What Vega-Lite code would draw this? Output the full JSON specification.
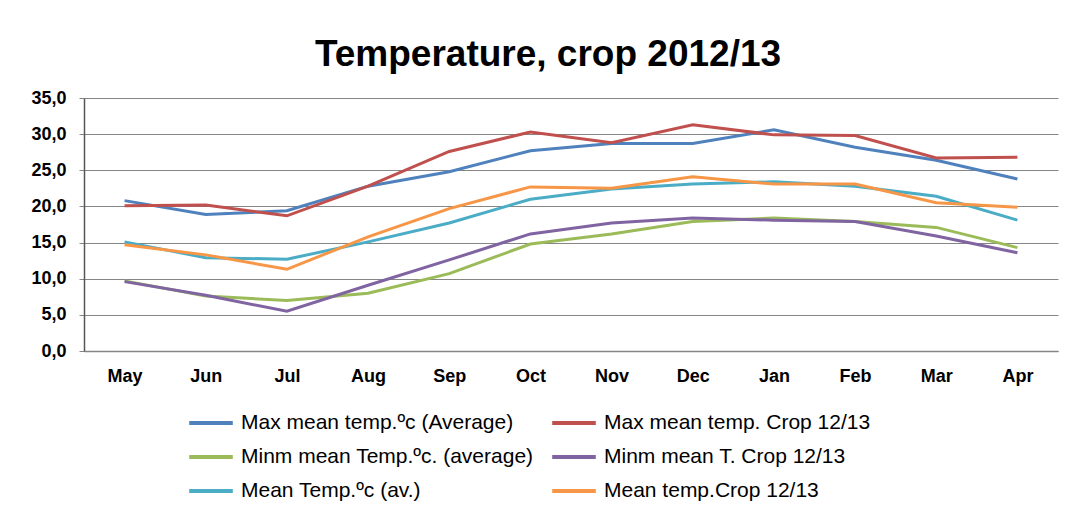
{
  "$schema": "https://vega.github.io/schema/vega-lite/v6.json",
  "autosize": "none",
  "width": 974,
  "height": 253,
  "padding": {"left": 84, "top": 98, "right": 11, "bottom": 164},
  "background": "white",
  "title": {
    "text": "Temperature, crop 2012/13",
    "font": "Liberation Sans",
    "fontSize": 37,
    "fontWeight": "bold",
    "color": "#000000",
    "anchor": "middle",
    "dx": -23,
    "offset": 15
  },
  "config": {
    "locale": {"number": {"decimal": ",", "thousands": ".", "grouping": [3], "currency": ["", " €"]}},
    "view": {"stroke": null},
    "font": "Liberation Sans"
  },
  "data": {
    "values": [
      {"month": "May", "series": "Max mean temp.ºc (Average)", "temp": 20.8},
      {"month": "Jun", "series": "Max mean temp.ºc (Average)", "temp": 18.9},
      {"month": "Jul", "series": "Max mean temp.ºc (Average)", "temp": 19.4},
      {"month": "Aug", "series": "Max mean temp.ºc (Average)", "temp": 22.8},
      {"month": "Sep", "series": "Max mean temp.ºc (Average)", "temp": 24.8},
      {"month": "Oct", "series": "Max mean temp.ºc (Average)", "temp": 27.7},
      {"month": "Nov", "series": "Max mean temp.ºc (Average)", "temp": 28.7},
      {"month": "Dec", "series": "Max mean temp.ºc (Average)", "temp": 28.7},
      {"month": "Jan", "series": "Max mean temp.ºc (Average)", "temp": 30.6},
      {"month": "Feb", "series": "Max mean temp.ºc (Average)", "temp": 28.2},
      {"month": "Mar", "series": "Max mean temp.ºc (Average)", "temp": 26.4},
      {"month": "Apr", "series": "Max mean temp.ºc (Average)", "temp": 23.8},

      {"month": "May", "series": "Max mean temp. Crop 12/13", "temp": 20.1},
      {"month": "Jun", "series": "Max mean temp. Crop 12/13", "temp": 20.2},
      {"month": "Jul", "series": "Max mean temp. Crop 12/13", "temp": 18.7},
      {"month": "Aug", "series": "Max mean temp. Crop 12/13", "temp": 22.8},
      {"month": "Sep", "series": "Max mean temp. Crop 12/13", "temp": 27.6},
      {"month": "Oct", "series": "Max mean temp. Crop 12/13", "temp": 30.3},
      {"month": "Nov", "series": "Max mean temp. Crop 12/13", "temp": 28.8},
      {"month": "Dec", "series": "Max mean temp. Crop 12/13", "temp": 31.3},
      {"month": "Jan", "series": "Max mean temp. Crop 12/13", "temp": 29.9},
      {"month": "Feb", "series": "Max mean temp. Crop 12/13", "temp": 29.8},
      {"month": "Mar", "series": "Max mean temp. Crop 12/13", "temp": 26.7},
      {"month": "Apr", "series": "Max mean temp. Crop 12/13", "temp": 26.8},

      {"month": "May", "series": " Minm mean Temp.ºc. (average)", "temp": 9.7},
      {"month": "Jun", "series": " Minm mean Temp.ºc. (average)", "temp": 7.6},
      {"month": "Jul", "series": " Minm mean Temp.ºc. (average)", "temp": 7.0},
      {"month": "Aug", "series": " Minm mean Temp.ºc. (average)", "temp": 8.0},
      {"month": "Sep", "series": " Minm mean Temp.ºc. (average)", "temp": 10.7},
      {"month": "Oct", "series": " Minm mean Temp.ºc. (average)", "temp": 14.8},
      {"month": "Nov", "series": " Minm mean Temp.ºc. (average)", "temp": 16.2},
      {"month": "Dec", "series": " Minm mean Temp.ºc. (average)", "temp": 17.9},
      {"month": "Jan", "series": " Minm mean Temp.ºc. (average)", "temp": 18.4},
      {"month": "Feb", "series": " Minm mean Temp.ºc. (average)", "temp": 17.9},
      {"month": "Mar", "series": " Minm mean Temp.ºc. (average)", "temp": 17.1},
      {"month": "Apr", "series": " Minm mean Temp.ºc. (average)", "temp": 14.3},

      {"month": "May", "series": "Minm mean  T. Crop 12/13", "temp": 9.6},
      {"month": "Jun", "series": "Minm mean  T. Crop 12/13", "temp": 7.7},
      {"month": "Jul", "series": "Minm mean  T. Crop 12/13", "temp": 5.5},
      {"month": "Aug", "series": "Minm mean  T. Crop 12/13", "temp": 9.1},
      {"month": "Sep", "series": "Minm mean  T. Crop 12/13", "temp": 12.6},
      {"month": "Oct", "series": "Minm mean  T. Crop 12/13", "temp": 16.2},
      {"month": "Nov", "series": "Minm mean  T. Crop 12/13", "temp": 17.7},
      {"month": "Dec", "series": "Minm mean  T. Crop 12/13", "temp": 18.4},
      {"month": "Jan", "series": "Minm mean  T. Crop 12/13", "temp": 18.1},
      {"month": "Feb", "series": "Minm mean  T. Crop 12/13", "temp": 17.9},
      {"month": "Mar", "series": "Minm mean  T. Crop 12/13", "temp": 15.9},
      {"month": "Apr", "series": "Minm mean  T. Crop 12/13", "temp": 13.6},

      {"month": "May", "series": "Mean Temp.ºc  (av.)", "temp": 15.1},
      {"month": "Jun", "series": "Mean Temp.ºc  (av.)", "temp": 12.9},
      {"month": "Jul", "series": "Mean Temp.ºc  (av.)", "temp": 12.7},
      {"month": "Aug", "series": "Mean Temp.ºc  (av.)", "temp": 15.1},
      {"month": "Sep", "series": "Mean Temp.ºc  (av.)", "temp": 17.7},
      {"month": "Oct", "series": "Mean Temp.ºc  (av.)", "temp": 21.0},
      {"month": "Nov", "series": "Mean Temp.ºc  (av.)", "temp": 22.4},
      {"month": "Dec", "series": "Mean Temp.ºc  (av.)", "temp": 23.1},
      {"month": "Jan", "series": "Mean Temp.ºc  (av.)", "temp": 23.4},
      {"month": "Feb", "series": "Mean Temp.ºc  (av.)", "temp": 22.8},
      {"month": "Mar", "series": "Mean Temp.ºc  (av.)", "temp": 21.4},
      {"month": "Apr", "series": "Mean Temp.ºc  (av.)", "temp": 18.1},

      {"month": "May", "series": "Mean temp.Crop 12/13", "temp": 14.7},
      {"month": "Jun", "series": "Mean temp.Crop 12/13", "temp": 13.3},
      {"month": "Jul", "series": "Mean temp.Crop 12/13", "temp": 11.3},
      {"month": "Aug", "series": "Mean temp.Crop 12/13", "temp": 15.8},
      {"month": "Sep", "series": "Mean temp.Crop 12/13", "temp": 19.7},
      {"month": "Oct", "series": "Mean temp.Crop 12/13", "temp": 22.7},
      {"month": "Nov", "series": "Mean temp.Crop 12/13", "temp": 22.5},
      {"month": "Dec", "series": "Mean temp.Crop 12/13", "temp": 24.1},
      {"month": "Jan", "series": "Mean temp.Crop 12/13", "temp": 23.1},
      {"month": "Feb", "series": "Mean temp.Crop 12/13", "temp": 23.1},
      {"month": "Mar", "series": "Mean temp.Crop 12/13", "temp": 20.5},
      {"month": "Apr", "series": "Mean temp.Crop 12/13", "temp": 19.9}
    ]
  },
  "mark": {"type": "line", "strokeWidth": 3},
  "encoding": {
    "x": {
      "field": "month",
      "type": "ordinal",
      "sort": ["May", "Jun", "Jul", "Aug", "Sep", "Oct", "Nov", "Dec", "Jan", "Feb", "Mar", "Apr"],
      "scale": {"type": "point", "padding": 0.5},
      "axis": {
        "title": null,
        "labelAngle": 0,
        "labelFont": "Liberation Sans",
        "labelFontSize": 18,
        "labelFontWeight": "bold",
        "labelColor": "#000000",
        "labelPadding": 16,
        "ticks": false,
        "domainColor": "#868686",
        "domainWidth": 1.5,
        "grid": false
      }
    },
    "y": {
      "field": "temp",
      "type": "quantitative",
      "scale": {"domain": [0, 35]},
      "axis": {
        "title": null,
        "values": [0, 5, 10, 15, 20, 25, 30, 35],
        "format": ".1f",
        "labelFont": "Liberation Sans",
        "labelFontSize": 18,
        "labelFontWeight": "bold",
        "labelColor": "#000000",
        "labelPadding": 13,
        "tickSize": 5,
        "tickColor": "#868686",
        "domainColor": "#555555",
        "domainWidth": 1.5,
        "grid": true,
        "gridColor": "#868686",
        "gridWidth": 1
      }
    },
    "color": {
      "field": "series",
      "type": "nominal",
      "sort": null,
      "scale": {
        "domain": ["Max mean temp.ºc (Average)", " Minm mean Temp.ºc. (average)", "Mean Temp.ºc  (av.)", "Max mean temp. Crop 12/13", "Minm mean  T. Crop 12/13", "Mean temp.Crop 12/13"],
        "range": ["#4F81BD", "#9BBB59", "#4BACC6", "#C0504D", "#8064A2", "#F79646"]
      },
      "legend": {
        "title": null,
        "orient": "none",
        "legendX": 103,
        "legendY": 301,
        "columns": 2,
        "symbolType": "stroke",
        "symbolSize": 1900,
        "symbolStrokeWidth": 4,
        "labelFont": "Liberation Sans",
        "labelFontSize": 21,
        "labelColor": "#000000",
        "labelLimit": 400,
        "labelOffset": 6,
        "rowPadding": 0,
        "columnPadding": 10
      }
    }
  }
}
